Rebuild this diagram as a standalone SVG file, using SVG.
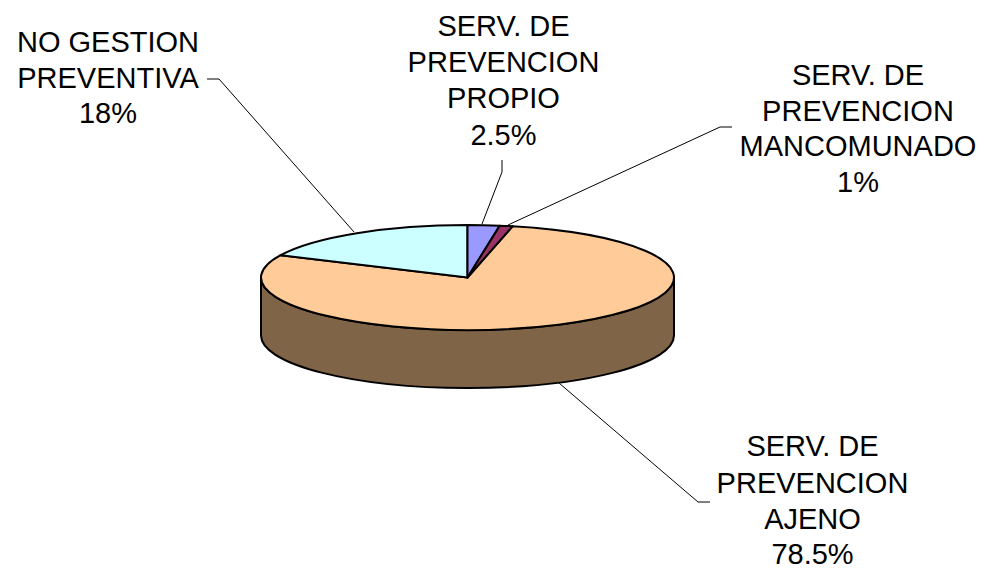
<svg xmlns="http://www.w3.org/2000/svg" width="988" height="569" viewBox="0 0 988 569">
<style>
.lbl{font-family:"Liberation Sans",Arial,sans-serif;font-size:29px;fill:#000;text-anchor:middle}
.slice{stroke:#000;stroke-width:2;stroke-linejoin:round}
.lead{fill:none;stroke:#000;stroke-width:1}
</style>
<rect width="988" height="569" fill="#fff"/>
<g id="pie">
<path id="side" class="slice" fill="#806448" d="M261,277.5 A206.5,52.5 0 0 0 674,277.5 L674,335.5 A206.5,52.5 0 0 1 261,335.5 Z"/>
<path id="slice-ajeno" class="slice" fill="#FFCC99" d="M467.5,277.5 L512.55,226.26 A206.5,52.5 0 1 1 280.65,255.15 Z"/>
<path id="slice-nogestion" class="slice" fill="#CCFFFF" d="M467.5,277.5 L280.65,255.15 A206.5,52.5 0 0 1 467.5,225 Z"/>
<path id="slice-propio" class="slice" fill="#9999FF" d="M467.5,277.5 L467.5,225 A206.5,52.5 0 0 1 499.8,225.65 Z"/>
<path id="slice-mancomunado" class="slice" fill="#993366" d="M467.5,277.5 L499.8,225.65 A206.5,52.5 0 0 1 512.55,226.26 Z"/>
</g>
<g id="connectors">
<polyline class="lead" points="207,79 219,79 354,232"/>
<polyline class="lead" points="502,160 502,172 482,224"/>
<polyline class="lead" points="508,225 720,127 732,127"/>
<polyline class="lead" points="559,383 698,502 710,502"/>
</g>
<g id="label-nogestion">
<text class="lbl" x="108" y="52">NO GESTION</text>
<text class="lbl" x="108" y="87.5">PREVENTIVA</text>
<text class="lbl" x="108" y="123">18%</text>
</g>
<g id="label-propio">
<text class="lbl" x="503.5" y="36">SERV. DE</text>
<text class="lbl" x="503.5" y="72">PREVENCION</text>
<text class="lbl" x="503.5" y="108">PROPIO</text>
<text class="lbl" x="503.5" y="144.5">2.5%</text>
</g>
<g id="label-mancomunado">
<text class="lbl" x="858" y="85">SERV. DE</text>
<text class="lbl" x="858" y="120.5">PREVENCION</text>
<text class="lbl" x="858" y="156">MANCOMUNADO</text>
<text class="lbl" x="858" y="192">1%</text>
</g>
<g id="label-ajeno">
<text class="lbl" x="812.5" y="456">SERV. DE</text>
<text class="lbl" x="812.5" y="492.5">PREVENCION</text>
<text class="lbl" x="812.5" y="529">AJENO</text>
<text class="lbl" x="812.5" y="563.5">78.5%</text>
</g>
</svg>
